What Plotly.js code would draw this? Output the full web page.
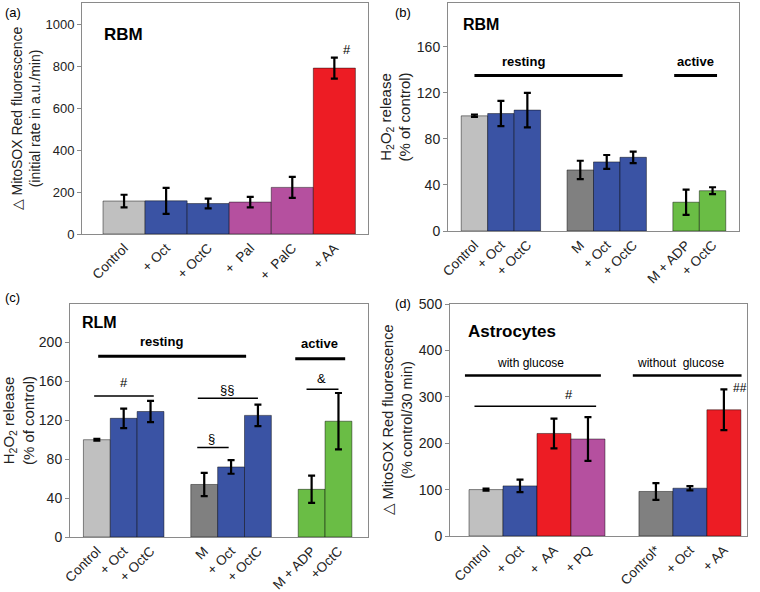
<!DOCTYPE html>
<html>
<head>
<meta charset="utf-8">
<script src="https://cdn.plot.ly/plotly-3.0.1.min.js"></script>
<style>html,body{margin:0;padding:0;background:#fff}#chart{width:760px;height:592px}</style>
</head>
<body>
<div id="chart"></div>
<script>
// ---------- DATA ----------
// (a) RBM MitoSOX
const groupsA = [["Control", "+ Oct", "+ OctC", "+\u00a0\u00a0Pal", "+\u00a0\u00a0PalC", "+ AA"]];
const valsA = [157, 158, 145, 152, 222, 790];
const errA  = [30, 62, 23, 25, 50, 50];

// (b) RBM H2O2
const groupsB = [["Control", "+ Oct", "+ OctC"], ["M", "+ Oct", "+ OctC"], ["M + ADP", "+ OctC"]];
const valsB = [100, 102, 105, 53, 60, 64, 25, 35];
const errB  = [1, 11, 15, 8, 6, 5, 11, 3];

// (c) RLM H2O2
const groupsC = [["Control", "+ Oct", "+ OctC"], ["M", "+ Oct", "+ OctC"], ["M + ADP", "+OctC"]];
const valsC = [100, 122, 129, 54, 72, 125, 49, 119];
const errC  = [1, 10, 11, 12, 7, 11, 14, 29];

// (d) Astrocytes MitoSOX
const groupsD = [["Control", "+ Oct", "+\u00a0\u00a0AA", "+ PQ"], ["Control*", "+ Oct", "+ AA"]];
const valsD = [100, 108, 221, 209, 96, 103, 272];
const errD  = [2, 13.5, 32, 47, 18, 4.5, 44];

// ---------- STYLE ----------
const C = {ctrl: "#c0c0c0", m: "#808080", oct: "#3a53a4", pal: "#b5509f", aa: "#ed1c24", act: "#6abd45"};
const colA = [C.ctrl, C.oct, C.oct, C.pal, C.pal, C.aa];
const colB = [C.ctrl, C.oct, C.oct, C.m, C.oct, C.oct, C.act, C.act];
const colC = colB;
const colD = [C.ctrl, C.oct, C.aa, C.pal, C.m, C.oct, C.aa];
const FONT = "Liberation Sans, Arial, sans-serif";
const TXT = "#222";

function layoutGroups(groups) {
  const pos = [], lab = [];
  let p = 0;
  groups.forEach(g => {
    g.forEach(l => { pos.push(p); lab.push(l); p += 1; });
    p += 1;
  });
  return {pos, lab};
}
const A = layoutGroups(groupsA), B = layoutGroups(groupsB), Cc = layoutGroups(groupsC), D = layoutGroups(groupsD);

function barTrace(g, vals, err, cols, ax) {
  return {
    type: "bar", x: g.pos, y: vals, width: 1,
    marker: {color: cols, line: {color: "rgba(0,0,0,0.45)", width: 1}},
    error_y: {type: "data", array: err, visible: true, color: "#000", thickness: 2.2, width: 3.5},
    xaxis: "x" + ax, yaxis: "y" + ax, hoverinfo: "y", showlegend: false
  };
}

const traces = [
  barTrace(A, valsA, errA, colA, ""),
  barTrace(B, valsB, errB, colB, "2"),
  barTrace(Cc, valsC, errC, colC, "3"),
  barTrace(D, valsD, errD, colD, "4")
];

function xax(domain, range, g, anchor) {
  return {domain, range, anchor, tickmode: "array", tickvals: g.pos, ticktext: g.lab,
    tickangle: -45, ticks: "", showline: true, linecolor: "#8a8a8a", linewidth: 1, mirror: true,
    showgrid: false, zeroline: false, tickfont: {size: 13.5, color: TXT, family: FONT}, fixedrange: true};
}
function yax(domain, range, dtick, anchor, title, fs, tfs, so) {
  return {domain, range, dtick, anchor, ticks: "outside", ticklen: 4, tickcolor: "#8a8a8a",
    showline: true, linecolor: "#8a8a8a", linewidth: 1, mirror: true, showgrid: false, zeroline: false,
    tickfont: {size: fs, color: TXT, family: FONT},
    title: {text: title, font: {size: tfs, color: TXT, family: FONT}, standoff: so}, fixedrange: true};
}

const shapes = [];
function hline(ax, x0, x1, y, w) {
  shapes.push({type: "line", xref: "x" + ax, yref: "y" + ax, x0, x1, y0: y, y1: y, line: {color: "#000", width: w}});
}
const annotations = [];
function txt(ax, x, y, text, size, bold, anchor) {
  annotations.push({xref: "x" + ax, yref: "y" + ax, x, y, text: bold ? "<b>" + text + "</b>" : text,
    showarrow: false, xanchor: anchor || "center", yanchor: "middle",
    font: {size, color: "#000", family: FONT}});
}
function plabel(px, py, text) {
  annotations.push({xref: "paper", yref: "paper", x: px / 760, y: 1 - py / 592, text, showarrow: false,
    xanchor: "left", yanchor: "middle", font: {size: 13, color: "#000", family: FONT}});
}

// (a)
txt("", -0.52, 952, "RBM", 17, true, "left");
txt("", 5.31, 880, "#", 13, false);
// (b)
txt("2", -0.5, 179, "RBM", 16, true, "left");
txt("2", 1.85, 147, "resting", 13, true);
txt("2", 8.35, 147, "active", 13, true);
hline("2", 0, 5.6, 135, 3);
hline("2", 7.55, 9.17, 135, 3);
// (c)
txt("3", -0.63, 220, "RLM", 16, true, "left");
txt("3", 2.4, 201, "resting", 13, true);
txt("3", 8.29, 198.5, "active", 13, true);
hline("3", 0.05, 5.56, 185.8, 3);
hline("3", 7.39, 9.25, 183.3, 3);
hline("3", -0.1, 2.12, 145, 1.5);
txt("3", 1.0, 159, "#", 13, false);
hline("3", 3.74, 4.91, 92, 1.5);
txt("3", 4.27, 101.6, "§", 13, false);
hline("3", 3.76, 6.0, 142.5, 1.5);
txt("3", 4.86, 151.4, "§§", 13, false);
hline("3", 7.81, 9.0, 152, 1.5);
txt("3", 8.37, 163.4, "&amp;", 13, false);
// (d)
txt("4", -0.59, 441.6, "Astrocytes", 17, true, "left");
txt("4", 1.3, 373, "with glucose", 12, false);
hline("4", -0.62, 3.38, 346, 2.5);
hline("4", -0.34, 3.24, 279.5, 1.5);
txt("4", 2.43, 306, "#", 13, false);
txt("4", 5.72, 373, "without\u00a0\u00a0glucose", 12, false);
hline("4", 4.32, 7.52, 346, 2.5);
txt("4", 7.22, 318, "##", 12, false, "left");

plabel(3, 12, "(a)");
plabel(393, 12, "(b)");
plabel(3, 297, "(c)");
plabel(393, 303, "(d)");

const layout = {
  width: 760, height: 592, margin: {l: 0, r: 0, t: 0, b: 0},
  paper_bgcolor: "#fff", plot_bgcolor: "#fff", bargap: 0,
  font: {family: FONT, color: TXT},
  xaxis:  xax([82/760, 368/760], [-1, 5.8], A, "y"),
  yaxis:  yax([1-234/592, 1-3/592], [0, 1100], 200, "x", "\u25b3 MitoSOX Red fluorescence<br>(initial rate in a.u./min)", 13, 14, 1),
  xaxis2: xax([448/760, 739/760], [-1, 10], B, "y2"),
  yaxis2: yax([1-231/592, 1-3/592], [0, 198], 40, "x2", "H<sub>2</sub>O<sub>2</sub> release<br>(% of control)", 14, 15, 2),
  xaxis3: xax([70/760, 368/760], [-1, 10.1], Cc, "y3"),
  yaxis3: yax([1-537/592, 1-304/592], [0, 239.5], 40, "x3", "H<sub>2</sub>O<sub>2</sub> release<br>(% of control)", 14, 15, 2),
  xaxis4: xax([450/760, 747/760], [-1.06, 7.68], D, "y4"),
  yaxis4: yax([1-536/592, 1-304/592], [0, 500], 100, "x4", "\u25b3 MitoSOX Red fluorescence<br>(% control/30 min)", 14, 14.5, 2),
  shapes, annotations
};

Plotly.newPlot("chart", traces, layout, {displayModeBar: false, staticPlot: true});
</script>
</body>
</html>
